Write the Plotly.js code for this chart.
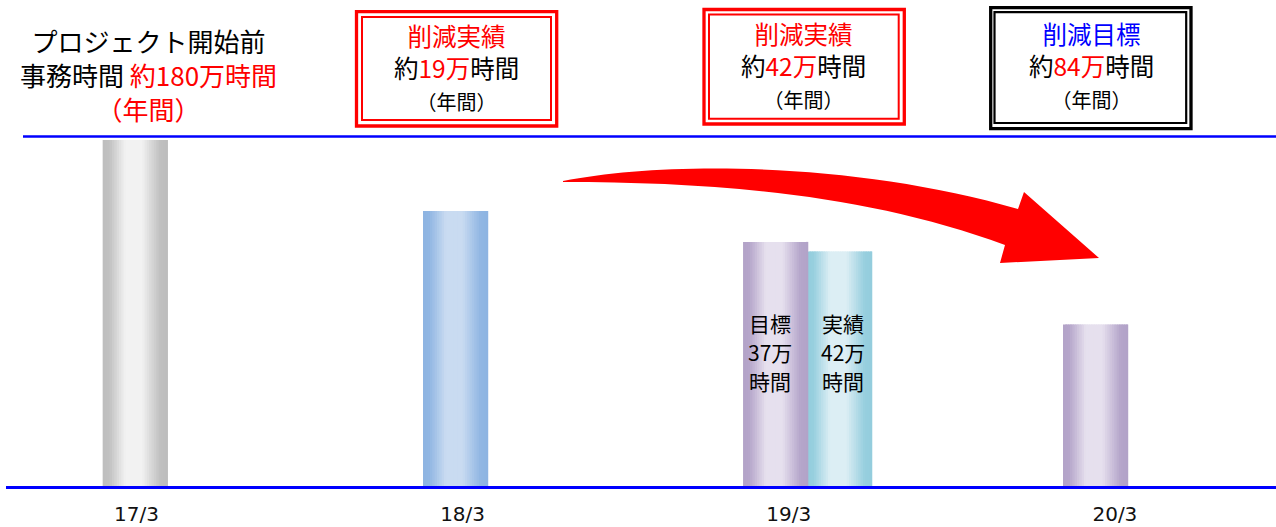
<!DOCTYPE html>
<html><head><meta charset="utf-8">
<script src="https://cdn.plot.ly/plotly-3.0.1.min.js"></script>
<style>html,body{margin:0;padding:0;background:#fff}#chart{width:1276px;height:527px}</style>
</head><body><div id="chart"></div>
<script>
// ---- data (万時間) ----
const categories = ['17/3', '18/3', '19/3', '20/3'];
const actualValues = [180, 143, 122, null];   // 実績 / プロジェクト開始前
const targetValues = [null, null, 127, 84];   // 目標
const baselineHours = 180;                     // 約180万時間
const reductionActual = [null, 19, 42, null];  // 削減実績
const reductionTarget = [null, null, 37, 84];  // 削減目標 / 目標

// ---- styles ----
const JP = '"Noto Sans CJK JP", "Noto Sans", sans-serif';
const RED = '#ff0000', BLUE = '#0000ff', BLACK = '#000000';
const actualPalette = [['#bdbdbd', '#f2f2f2'], ['#8db4e2', '#c9dbf1'], ['#93cddd', '#dceef4'], null];
const targetPalette = [null, null, ['#b2a2c8', '#e6e0ee'], ['#b2a2c8', '#e6e0ee']];
const actualOffset = [-0.1036, -0.1214, 0.0561, 0];
const targetOffset = [0, 0, -0.1401, -0.1591];
const BW = 0.2;

// plot geometry (pixels) used only for decorations
const L = 6, T = 137, W = 1270, H = 349;
const PX = x => (x - L) / W;
const PY = y => (T + H - y) / H;

// gradient profile across a bar
const profile = [[0, 0], [0.1, 0.06], [0.35, 1], [0.6, 1], [0.88, 0.06], [1, 0]];
function prof(u) {
  for (let i = 1; i < profile.length; i++) {
    if (u <= profile[i][0]) {
      const [u0, v0] = profile[i - 1], [u1, v1] = profile[i];
      return v0 + (v1 - v0) * (u - u0) / (u1 - u0);
    }
  }
  return 0;
}
function hex(c) { return [1, 3, 5].map(i => parseInt(c.substr(i, 2), 16)); }
function mix(a, b, t) {
  const A = hex(a), B = hex(b);
  return 'rgb(' + A.map((v, i) => Math.round(v + (B[i] - v) * t)).join(',') + ')';
}

// collect bars from the series
const bars = [];
categories.forEach((c, i) => {
  if (targetValues[i] != null) bars.push({cat: c, val: targetValues[i], pal: targetPalette[i], off: targetOffset[i]});
  if (actualValues[i] != null) bars.push({cat: c, val: actualValues[i], pal: actualPalette[i], off: actualOffset[i]});
});

const N = 28;
const traces = [];
for (let k = 0; k < N; k++) {
  const t = {type: 'bar', x: [], y: [], offset: [], width: [], marker: {color: [], line: {width: 0}},
    hoverinfo: 'skip', showlegend: false};
  bars.forEach(b => {
    const sw = BW / N;
    t.x.push(b.cat); t.y.push(b.val);
    t.offset.push(b.off + k * sw);
    t.width.push(Math.min(sw * 1.8, BW - k * sw));
    t.marker.color.push(mix(b.pal[0], b.pal[1], prof((k + 0.5) / N)));
  });
  traces.push(t);
}

function ann(text, x, y, size, color) {
  return {xref: 'paper', yref: 'paper', x: PX(x), y: PY(y), xanchor: 'center', yanchor: 'middle',
    showarrow: false, text: text, font: {family: JP, size: size, color: color || BLACK}};
}
const red = s => '<span style="color:' + RED + '">' + s + '</span>';
const blue = s => '<span style="color:' + BLUE + '">' + s + '</span>';
const small = s => '<span style="font-size:20px">' + s + '</span>';

const annotations = [
  ann('プロジェクト開始前<br>事務時間 ' + red('約' + baselineHours + '万時間') + '<br>' + red('（年間）'), 148.5, 75, 26),
  ann(red('削減実績') + '<br>約' + red(reductionActual[1] + '万') + '時間<br>' + small('（年間）'), 456.6, 67, 24.5),
  ann(red('削減実績') + '<br>約' + red(reductionActual[2] + '万') + '時間<br>' + small('（年間）'), 804, 65, 24.5),
  ann(blue('削減目標') + '<br>約' + red(reductionTarget[3] + '万') + '時間<br>' + small('（年間）'), 1091, 65, 24.5),
  ann('目標', 770, 323, 21), ann(reductionTarget[2] + '万', 770, 352, 21), ann('時間', 770, 381, 21),
  ann('実績', 842.5, 323, 21), ann(reductionActual[2] + '万', 842.5, 352, 21), ann('時間', 842.5, 381, 21)
];

function rect(x0, y0, x1, y1, color, w) {
  return {type: 'rect', xref: 'paper', yref: 'paper', x0: PX(x0), x1: PX(x1), y0: PY(y0), y1: PY(y1),
    line: {color: color, width: w}, fillcolor: 'rgba(0,0,0,0)'};
}
const P = (x, y) => PX(x).toFixed(5) + ',' + PY(y).toFixed(5);
const arrowPath = 'M' + P(563, 181) +
  ' C' + P(670, 160) + ' ' + P(860, 163) + ' ' + P(1018, 209) +
  ' L' + P(1024, 192) + ' L' + P(1099, 258) + ' L' + P(1000, 263) + ' L' + P(1005, 245) +
  ' C' + P(870, 195) + ' ' + P(720, 182) + ' ' + P(563, 182) + ' Z';

const shapes = [
  {type: 'line', xref: 'paper', yref: 'paper', x0: PX(23), x1: 1, y0: PY(136.5), y1: PY(136.5),
    line: {color: BLUE, width: 2.5}},
  rect(356.5, 11.7, 556.7, 126, RED, 3.3), rect(362, 17, 551, 120, RED, 2),
  rect(704, 9.5, 904.3, 124, RED, 3.3), rect(709, 14.5, 898.7, 118.7, RED, 2),
  rect(990.7, 7.7, 1191, 128.7, BLACK, 3.3), rect(994.5, 12.2, 1186.2, 123, BLACK, 2.2),
  {type: 'path', xref: 'paper', yref: 'paper', path: arrowPath, fillcolor: RED, line: {width: 0}}
];

const layout = {
  width: 1276, height: 527,
  margin: {l: L, r: 1276 - L - W, t: T, b: 527 - T - H, pad: 0},
  paper_bgcolor: '#ffffff', plot_bgcolor: '#ffffff',
  barmode: 'overlay', showlegend: false,
  xaxis: {type: 'category', categoryorder: 'array', categoryarray: categories,
    range: [-0.4, 3.494], showgrid: false, zeroline: false, ticks: '',
    showline: true, linecolor: BLUE, linewidth: 2.5, ticklabelstandoff: 8,
    tickfont: {family: '"DejaVu Sans", sans-serif', size: 20, color: '#111111'}},
  yaxis: {range: [0, 181.56], visible: false, showgrid: false, zeroline: false},
  annotations: annotations, shapes: shapes
};

Plotly.newPlot('chart', traces, layout, {staticPlot: true, displayModeBar: false});
</script></body></html>
